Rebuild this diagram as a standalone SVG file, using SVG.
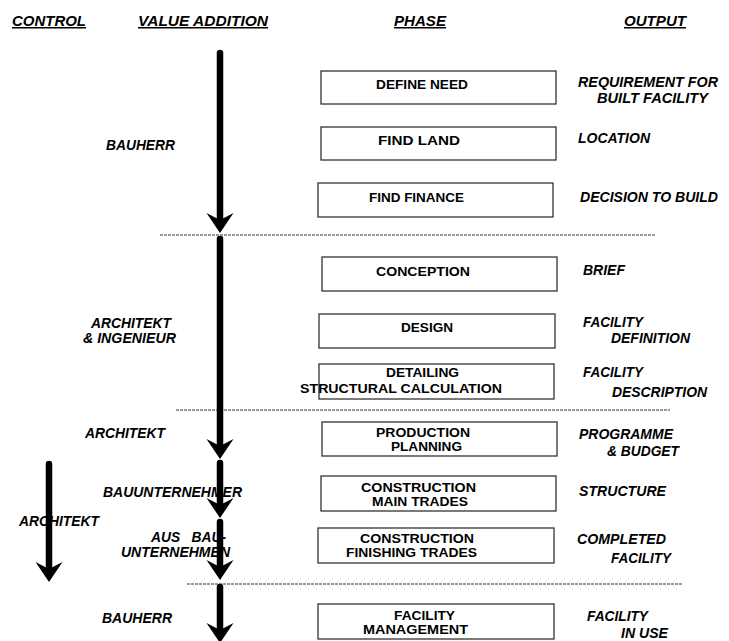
<svg xmlns="http://www.w3.org/2000/svg" width="729" height="641" viewBox="0 0 729 641">
<defs>
<style>
text{font-family:"Liberation Sans",Arial,sans-serif;font-weight:bold;fill:#000}
.h{font-size:15px;font-style:italic;text-decoration:underline}
.b{font-size:12.5px}
.o{font-size:14px;font-style:italic}
.l{font-size:14px;font-style:italic}
.box{fill:#fff;stroke:#333;stroke-width:1.3}
.dash{stroke:#333;stroke-width:1;stroke-dasharray:3 1;fill:none}
.shaft{stroke:#000;stroke-width:6.5;stroke-linecap:round;fill:none}
</style>
<path id="head" d="M-13.5,-20 L0,-13 L13.5,-20 L0,0 Z" fill="#000"/>
</defs>
<rect width="729" height="641" fill="#fff"/>
<g id="headers">
<text class="h" x="12" y="26" textLength="74" lengthAdjust="spacingAndGlyphs">CONTROL</text>
<text class="h" x="138" y="26" textLength="130" lengthAdjust="spacingAndGlyphs">VALUE ADDITION</text>
<text class="h" x="394" y="26" textLength="52" lengthAdjust="spacingAndGlyphs">PHASE</text>
<text class="h" x="624" y="26" textLength="62" lengthAdjust="spacingAndGlyphs">OUTPUT</text>
</g>
<g id="separators">
<line class="dash" x1="160" y1="235" x2="655" y2="235"/>
<line class="dash" x1="176" y1="410" x2="670" y2="410"/>
<line class="dash" x1="187" y1="584" x2="682" y2="584"/>
</g>
<g id="actors">
<text class="l" x="106" y="150" textLength="69" lengthAdjust="spacingAndGlyphs">BAUHERR</text>
<text class="l" x="91" y="328" textLength="80" lengthAdjust="spacingAndGlyphs">ARCHITEKT</text>
<text class="l" x="83" y="343" textLength="93" lengthAdjust="spacingAndGlyphs">&amp; INGENIEUR</text>
<text class="l" x="85" y="438" textLength="80" lengthAdjust="spacingAndGlyphs">ARCHITEKT</text>
<text class="l" x="103" y="497" textLength="139" lengthAdjust="spacingAndGlyphs">BAUUNTERNEHMER</text>
<text class="l" x="19" y="526" textLength="80" lengthAdjust="spacingAndGlyphs">ARCHITEKT</text>
<text class="l" x="151" y="542" textLength="75" lengthAdjust="spacingAndGlyphs" xml:space="preserve" style="white-space:pre">AUS   BAU-</text>
<text class="l" x="121" y="557" textLength="109" lengthAdjust="spacingAndGlyphs">UNTERNEHMEN</text>
<text class="l" x="102" y="623" textLength="70" lengthAdjust="spacingAndGlyphs">BAUHERR</text>
</g>
<g id="define-need">
<rect class="box" x="321" y="71" width="235" height="33"/>
<text class="b" x="376" y="89" textLength="92" lengthAdjust="spacingAndGlyphs">DEFINE NEED</text>
<text class="o" x="578" y="87" textLength="140" lengthAdjust="spacingAndGlyphs">REQUIREMENT FOR</text>
<text class="o" x="597" y="103" textLength="111" lengthAdjust="spacingAndGlyphs">BUILT FACILITY</text>
</g>
<g id="find-land">
<rect class="box" x="321" y="127" width="235" height="33"/>
<text class="b" x="378" y="145" textLength="82" lengthAdjust="spacingAndGlyphs">FIND LAND</text>
<text class="o" x="578" y="143" textLength="72" lengthAdjust="spacingAndGlyphs">LOCATION</text>
</g>
<g id="find-finance">
<rect class="box" x="318" y="183" width="235" height="34"/>
<text class="b" x="369" y="202" textLength="95" lengthAdjust="spacingAndGlyphs">FIND FINANCE</text>
<text class="o" x="580" y="202" textLength="138" lengthAdjust="spacingAndGlyphs">DECISION TO BUILD</text>
</g>
<g id="conception">
<rect class="box" x="322" y="257" width="235" height="34"/>
<text class="b" x="376" y="276" textLength="94" lengthAdjust="spacingAndGlyphs">CONCEPTION</text>
<text class="o" x="583" y="275" textLength="42" lengthAdjust="spacingAndGlyphs">BRIEF</text>
</g>
<g id="design">
<rect class="box" x="319" y="314" width="236" height="34"/>
<text class="b" x="401" y="332" textLength="52" lengthAdjust="spacingAndGlyphs">DESIGN</text>
<text class="o" x="583" y="327" textLength="60" lengthAdjust="spacingAndGlyphs">FACILITY</text>
<text class="o" x="611" y="343" textLength="79" lengthAdjust="spacingAndGlyphs">DEFINITION</text>
</g>
<g id="detailing">
<rect class="box" x="319" y="364" width="235" height="35"/>
<text class="b" x="386" y="377" textLength="73" lengthAdjust="spacingAndGlyphs">DETAILING</text>
<text class="b" x="300" y="393" textLength="202" lengthAdjust="spacingAndGlyphs">STRUCTURAL CALCULATION</text>
<text class="o" x="583" y="377" textLength="60" lengthAdjust="spacingAndGlyphs">FACILITY</text>
<text class="o" x="612" y="397" textLength="95" lengthAdjust="spacingAndGlyphs">DESCRIPTION</text>
</g>
<g id="production-planning">
<rect class="box" x="322" y="422" width="235" height="34"/>
<text class="b" x="376" y="437" textLength="94" lengthAdjust="spacingAndGlyphs">PRODUCTION</text>
<text class="b" x="391" y="451" textLength="71" lengthAdjust="spacingAndGlyphs">PLANNING</text>
<text class="o" x="579" y="439" textLength="94" lengthAdjust="spacingAndGlyphs">PROGRAMME</text>
<text class="o" x="607" y="456" textLength="72" lengthAdjust="spacingAndGlyphs">&amp; BUDGET</text>
</g>
<g id="construction-main">
<rect class="box" x="321" y="476" width="235" height="35"/>
<text class="b" x="361" y="492" textLength="115" lengthAdjust="spacingAndGlyphs">CONSTRUCTION</text>
<text class="b" x="372" y="506" textLength="96" lengthAdjust="spacingAndGlyphs">MAIN TRADES</text>
<text class="o" x="579" y="496" textLength="87" lengthAdjust="spacingAndGlyphs">STRUCTURE</text>
</g>
<g id="construction-finishing">
<rect class="box" x="318" y="528" width="236" height="35"/>
<text class="b" x="360" y="543" textLength="114" lengthAdjust="spacingAndGlyphs">CONSTRUCTION</text>
<text class="b" x="346" y="557" textLength="131" lengthAdjust="spacingAndGlyphs">FINISHING TRADES</text>
<text class="o" x="577" y="544" textLength="89" lengthAdjust="spacingAndGlyphs">COMPLETED</text>
<text class="o" x="611" y="563" textLength="60" lengthAdjust="spacingAndGlyphs">FACILITY</text>
</g>
<g id="facility-management">
<rect class="box" x="318" y="604" width="236" height="35"/>
<text class="b" x="394" y="620" textLength="61" lengthAdjust="spacingAndGlyphs">FACILITY</text>
<text class="b" x="363" y="634" textLength="105" lengthAdjust="spacingAndGlyphs">MANAGEMENT</text>
<text class="o" x="587" y="621" textLength="61" lengthAdjust="spacingAndGlyphs">FACILITY</text>
<text class="o" x="621" y="638" textLength="47" lengthAdjust="spacingAndGlyphs">IN USE</text>
</g>
<g id="connectors">
<line class="shaft" x1="220" y1="53" x2="220" y2="222"/>
<use href="#head" x="220" y="233"/>
<line class="shaft" x1="220" y1="239" x2="220" y2="448"/>
<use href="#head" x="220" y="459"/>
<line class="shaft" x1="220" y1="463" x2="220" y2="507"/>
<use href="#head" x="220" y="518"/>
<line class="shaft" x1="220" y1="522" x2="220" y2="569"/>
<use href="#head" x="220" y="580"/>
<line class="shaft" x1="220" y1="587" x2="220" y2="632"/>
<use href="#head" x="220" y="643"/>
<line class="shaft" x1="49" y1="464" x2="49" y2="571"/>
<use href="#head" x="49" y="582"/>
</g>
</svg>
